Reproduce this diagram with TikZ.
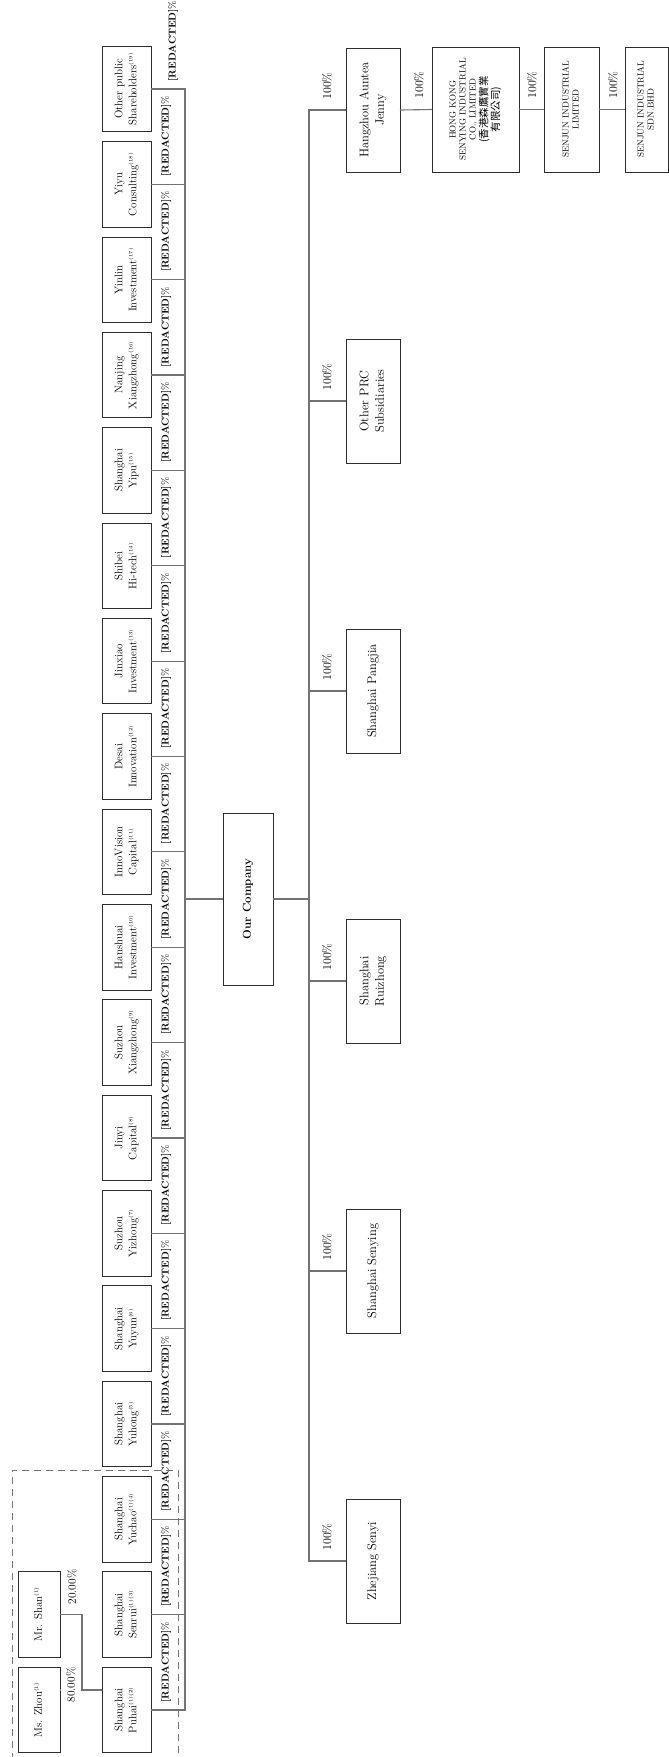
\documentclass[tikz,border=0pt]{standalone}
\usepackage{fontspec}
\usepackage{tikz}
\newfontfamily\cjk{Noto Sans CJK TC}
\definecolor{linegray}{RGB}{115,115,115}
\definecolor{boxedge}{RGB}{45,45,45}
\tikzset{
  holder/.style={draw=boxedge, line width=0.9pt, minimum width=49pt, minimum height=85.5pt,
    inner sep=0pt, text=black, font=\fontsize{11}{14}\selectfont},
  subbox/.style={draw=boxedge, line width=0.9pt, minimum width=54pt, minimum height=124pt,
    inner sep=0pt, text=black, font=\fontsize{12.5}{15.5}\selectfont},
  smallbox/.style={draw=boxedge, line width=0.9pt, minimum height=125pt,
    inner sep=0pt, text=black, font=\fontsize{8.8}{10}\selectfont},
  link/.style={draw=linegray, line width=1.1pt, line cap=rect},
  frame/.style={draw=linegray, line width=0.9pt, dash pattern=on 7pt off 5pt},
  pct/.style={rotate=90, inner sep=0pt, text=black, font=\fontsize{10}{12}\selectfont}
}
\newcommand{\fnote}[1]{\textsuperscript{\tiny(#1)}}
\newcommand{\vtext}[1]{\rotatebox{90}{\begin{tabular}{@{}c@{}}#1\end{tabular}}}
\newcommand{\holder}[4][166]{%
  \node[holder] (#2) at (126.5,#3) {\vtext{#4}};
  \draw[link] (#2.east) -- (#2.east -| busA);
  \node[pct] (#2pct) at (#1,#3-48) {\textbf{[REDACTED]}\%};}
\newcommand{\subsid}[3]{%
  \node[subbox] (#1) at (373,#2) {\vtext{#3}};
  \draw[link] (#1.west -| busB) -- (#1.west);
  \node[pct, font=\fontsize{12}{14}\selectfont] (#1pct) at (327,#2-24) {100\%};}

\begin{document}
\begin{tikzpicture}[x=1pt,y=-1pt]
  \useasboundingbox (0,0) rectangle (669,1757);
  \coordinate (busA) at (185,0);
  \coordinate (busB) at (309,0);

  % shareholders
  \holder{puhai}{1710}{Shanghai\\Puhai\fnote{1}\fnote{2}}
  \holder{senrui}{1614.6}{Shanghai\\Senrui\fnote{1}\fnote{3}}
  \holder{yuchao}{1519.3}{Shanghai\\Yuchao\fnote{1}\fnote{4}}
  \holder{yuhong}{1424}{Shanghai\\Yuhong\fnote{5}}
  \holder{yuyun}{1328.6}{Shanghai\\Yuyun\fnote{6}}
  \holder{yizhong}{1233.2}{Suzhou\\Yizhong\fnote{7}}
  \holder{jinyi}{1138}{Jinyi\\Capital\fnote{8}}
  \holder{suzhouxz}{1042.5}{Suzhou\\Xiangzhong\fnote{9}}
  \holder{hanshuai}{947.2}{Hanshuai\\Investment\fnote{10}}
  \holder{innovision}{851.8}{InnoVision\\Capital\fnote{11}}
  \holder{desai}{756.5}{Desai\\Innovation\fnote{12}}
  \holder{jinxiao}{661.1}{Jinxiao\\Investment\fnote{13}}
  \holder{shibei}{565.8}{Shibei\\Hi-tech\fnote{14}}
  \holder{yipu}{470.4}{Shanghai\\Yipu\fnote{15}}
  \holder{nanjingxz}{375}{Nanjing\\Xiangzhong\fnote{16}}
  \holder{yinlin}{279.7}{Yinlin\\Investment\fnote{17}}
  \holder{yiyu}{184.3}{Yiyu\\Consulting\fnote{18}}
  \holder[173]{otherpub}{89}{Other public\\Shareholders\fnote{19}}
  \draw[link] (otherpub.east -| busA) -- (puhai.east -| busA);

  % controlling persons
  \draw[frame] (12,1760) |- (178,1470) -- (178,1760);
  \node[holder, minimum width=42pt] (zhou) at (39,1710) {\vtext{Ms. Zhou\fnote{1}}};
  \node[holder, minimum width=42pt] (shan) at (39,1614.5) {\vtext{Mr. Shan\fnote{1}}};
  \coordinate (join) at (82,1690);
  \draw[link] (shan.east) -| (join) -- (join -| puhai.west);
  \draw[link] (zhou.east |- join) -- (join);
  \node[pct, fill=white, minimum height=20pt, font=\fontsize{11.5}{13}\selectfont] (zhoupct) at (71,1685) {80.00\%};
  \node[pct, font=\fontsize{11.5}{13}\selectfont] (shanpct) at (72,1587) {20.00\%};

  % our company
  \node[holder, minimum width=50pt, minimum height=172pt, font=\fontsize{11.5}{14}\selectfont\bfseries]
    (ourco) at (248,899) {\vtext{Our Company}};
  \draw[link] (ourco.west -| busA) -- (ourco.west);
  \draw[link] (ourco.east) -- (ourco.east -| busB);

  % subsidiaries
  \subsid{zhejiang}{1561}{Zhejiang Senyi}
  \subsid{senying}{1271}{Shanghai Senying}
  \subsid{ruizhong}{981}{Shanghai\\Ruizhong}
  \subsid{pangjia}{691}{Shanghai Pangjia}
  \subsid{otherprc}{401}{Other PRC\\Subsidiaries}
  \subsid{hangzhou}{110}{Hangzhou Auntea\\Jenny}
  \draw[link] (hangzhou.west -| busB) -- (zhejiang.west -| busB);

  % overseas chain
  \node[smallbox, minimum width=87pt] (hksenying) at (475.5,109.5)
    {\vtext{HONG KONG\\SENYING INDUSTRIAL\\CO., LIMITED\\{\cjk\fontsize{10.5}{12}\selectfont (香港森鷹實業}\\{\cjk\fontsize{10.5}{12}\selectfont 有限公司)}}};
  \node[smallbox, minimum width=55pt] (senjunltd) at (571.5,109.5) {\vtext{SENJUN INDUSTRIAL\\LIMITED}};
  \node[smallbox, minimum width=43pt] (senjunsdn) at (646.5,109.5) {\vtext{SENJUN INDUSTRIAL\\SDN.BHD}};
  \draw[link] (hangzhou.east) -- (hksenying.west);
  \draw[link] (hksenying.east) -- (senjunltd.west);
  \draw[link] (senjunltd.east) -- (senjunsdn.west);
  \node[pct, font=\fontsize{12}{14}\selectfont] (hkpct) at (419,85) {100\%};
  \node[pct, font=\fontsize{12}{14}\selectfont] (ltdpct) at (532,85) {100\%};
  \node[pct, font=\fontsize{12}{14}\selectfont] (sdnpct) at (613,85) {100\%};
\end{tikzpicture}
\end{document}
